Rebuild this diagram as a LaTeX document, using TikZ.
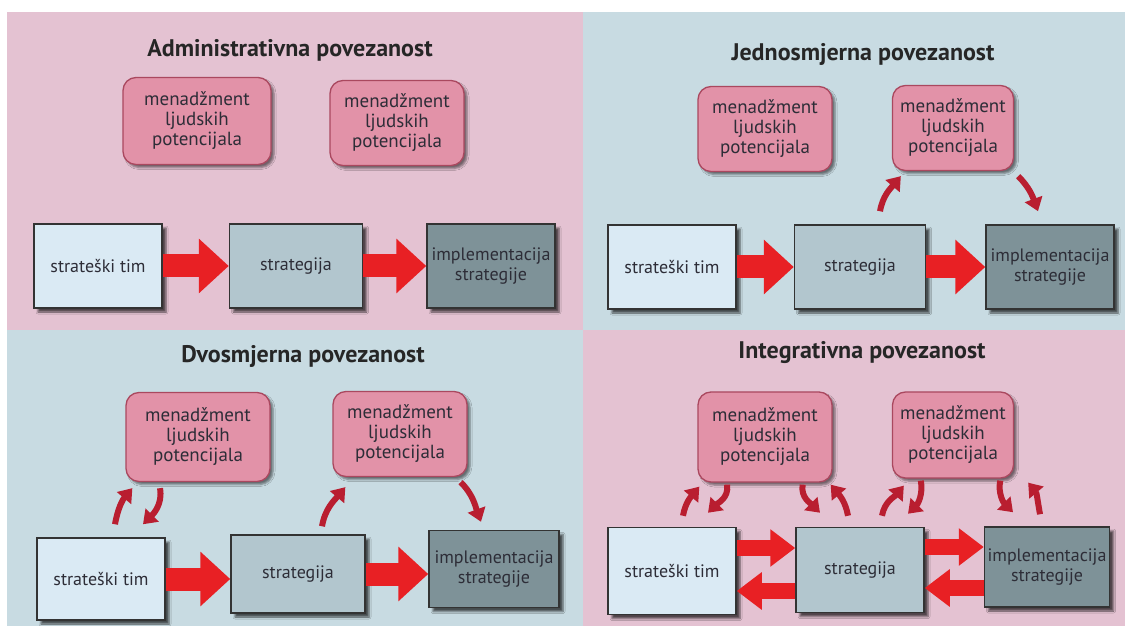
\documentclass[tikz,border=0pt]{standalone}
\usepackage{fontspec}
\setmainfont{PT Sans}
\usetikzlibrary{arrows.meta,shadows.blur}

\definecolor{bgpink}{RGB}{228,194,210}
\definecolor{bgblue}{RGB}{200,219,226}
\definecolor{boxpink}{RGB}{226,146,168}
\definecolor{boxpinkline}{RGB}{170,72,95}
\definecolor{timfill}{RGB}{218,234,244}
\definecolor{stratfill}{RGB}{178,198,206}
\definecolor{implfill}{RGB}{126,146,152}
\definecolor{bigred}{RGB}{232,32,36}
\definecolor{darkred}{RGB}{185,30,48}
\definecolor{textgray}{RGB}{45,45,55}

\begin{document}
\begin{tikzpicture}[x=1pt,y=-1pt,
    heading/.style={font=\fontsize{24}{28}\selectfont\bfseries, text=black!85},
    hrm/.style={draw=boxpinkline, line width=1.3pt, fill=boxpink, rounded corners=13pt,
        minimum width=134pt, minimum height=85pt, align=center, inner sep=0pt,
        font=\fontsize{19}{20}\selectfont, text=textgray,
        blur shadow={shadow xshift=3pt, shadow yshift=-3pt, shadow opacity=50}},
    block/.style={draw=black!80, line width=1.5pt, minimum width=128pt, minimum height=84pt,
        align=center, inner sep=0pt, font=\fontsize{18}{20}\selectfont, text=textgray,
        blur shadow={shadow xshift=4pt, shadow yshift=-4pt, shadow opacity=65}},
    bigarrow/.style={draw=bigred, line width=23pt, -{Triangle[length=30pt,width=53pt]}},
    twoarrow/.style={draw=bigred, line width=16pt, -{Triangle[length=25pt,width=36pt]}},
    curlarrow/.style={draw=darkred, line width=6pt, -{Triangle[length=13pt,width=18pt]}}
]
    \useasboundingbox (0,0) rectangle (1125,628);
    % backgrounds
    \fill[bgpink] (7,12) rectangle (583,330);
    \fill[bgblue] (583,12) rectangle (1125,330);
    \fill[bgblue] (7,330) rectangle (583,626);
    \fill[bgpink] (583,330) rectangle (1125,626);

    % Administrativna
    \node[heading] (tA) at (290,50) {Administrativna povezanost};
    \node[hrm, minimum width=148pt, minimum height=87pt] (hA1) at (197,121) {menadžment\\ljudskih\\potencijala};
    \node[hrm] (hA2) at (397,123) {menadžment\\ljudskih\\potencijala};
    \node[block, fill=timfill] (stA) at (98,266) {strateški tim};
    \node[block, fill=stratfill, minimum width=133pt] (sgA) at (296,266) {strategija};
    \node[block, fill=implfill] (imA) at (491,266) {implementacija\\strategije};
    \draw[bigarrow] (stA.east) -- (sgA.west |- stA.east);
    \draw[bigarrow] (sgA.east) -- (imA.west |- sgA.east);

    % Jednosmjerna
    \node[heading] (tB) at (863,54) {Jednosmjerna povezanost};
    \node[hrm] (hB1) at (765,129) {menadžment\\ljudskih\\potencijala};
    \node[hrm, minimum width=121pt] (hB2) at (953,128) {menadžment\\ljudskih\\potencijala};
    \node[block, fill=timfill] (stB) at (672,267) {strateški tim};
    \node[block, fill=stratfill, minimum width=131pt] (sgB) at (860,267) {strategija};
    \node[block, fill=implfill] (imB) at (1050,267) {implementacija\\strategije};
    \draw[bigarrow] (stB.east) -- (sgB.west |- stB.east);
    \draw[bigarrow] (sgB.east) -- (imB.west |- sgB.east);
    \draw[curlarrow] ([xshift=20pt,yshift=13pt]sgB.north) to[out=80,in=230] ([xshift=9pt,yshift=-5pt]hB2.south west);
    \draw[curlarrow] ([xshift=4pt,yshift=-5pt]hB2.south east) to[out=-45,in=110] ([xshift=-12pt,yshift=13pt]imB.north);

    % Dvosmjerna
    \node[heading] (tC) at (303,356) {Dvosmjerna povezanost};
    \node[hrm, minimum width=144pt, minimum height=89pt] (hC1) at (198,437) {menadžment\\ljudskih\\potencijala};
    \node[hrm] (hC2) at (400,434) {menadžment\\ljudskih\\potencijala};
    \node[block, fill=timfill, minimum height=82pt] (stC) at (101,579) {strateški tim};
    \node[block, fill=stratfill, minimum width=134pt, minimum height=78pt] (sgC) at (298,574) {strategija};
    \node[block, fill=implfill, minimum width=130pt, minimum height=77pt] (imC) at (494,569) {implementacija\\strategije};
    \draw[bigarrow] (stC.east) -- (sgC.west |- stC.east);
    \draw[bigarrow] (sgC.east) -- (imC.west |- sgC.east);
    \draw[curlarrow] ([xshift=14pt,yshift=13pt]stC.north) to[out=80,in=230] ([xshift=7pt,yshift=-6pt]hC1.south west);
    \draw[curlarrow] ([xshift=-38pt,yshift=-6pt]hC1.south) to[out=-80,in=45] ([xshift=42pt,yshift=13pt]stC.north);
    \draw[curlarrow] ([xshift=24pt,yshift=8pt]sgC.north) to[out=80,in=230] ([xshift=13pt,yshift=-10pt]hC2.south west);
    \draw[curlarrow] ([xshift=-7pt,yshift=-5pt]hC2.south east) to[out=-45,in=110] ([xshift=-13pt,yshift=8pt]imC.north);

    % Integrativna
    \node[heading] (tD) at (862,353) {Integrativna povezanost};
    \node[hrm, minimum height=90pt] (hD1) at (765,437) {menadžment\\ljudskih\\potencijala};
    \node[hrm, minimum width=121pt, minimum height=86pt] (hD2) at (953,435) {menadžment\\ljudskih\\potencijala};
    \node[block, fill=timfill, minimum height=87pt] (stD) at (672,571) {strateški tim};
    \node[block, fill=stratfill, minimum height=85pt] (sgD) at (860,570) {strategija};
    \node[block, fill=implfill, minimum width=125pt, minimum height=80pt] (imD) at (1047,567) {implementacija\\strategije};
    \draw[twoarrow] ([yshift=23pt]stD.east) -- ([yshift=23pt]stD.east -| sgD.west);
    \draw[twoarrow] ([yshift=-21pt]sgD.west) -- ([yshift=-21pt]sgD.west -| stD.east);
    \draw[twoarrow] ([yshift=23pt]sgD.east) -- ([yshift=23pt]sgD.east -| imD.west);
    \draw[twoarrow] ([yshift=-21pt]imD.west) -- ([yshift=-21pt]imD.west -| sgD.east);
    \draw[curlarrow] ([xshift=11pt,yshift=11pt]stD.north) to[out=80,in=230] ([xshift=2pt,yshift=-4pt]hD1.south west);
    \draw[curlarrow] ([xshift=-38pt,yshift=-2pt]hD1.south) to[out=-80,in=45] ([xshift=36pt,yshift=14pt]stD.north);
    \draw[curlarrow] ([xshift=-30pt,yshift=-2pt]hD1.south east) to[out=-100,in=135] ([xshift=-40pt,yshift=14pt]sgD.north);
    \draw[curlarrow] ([xshift=-12pt,yshift=11pt]sgD.north) to[out=100,in=-50] ([xshift=-2pt,yshift=-2pt]hD1.south east);
    \draw[curlarrow] ([xshift=22pt,yshift=11pt]sgD.north) to[out=80,in=230] ([xshift=12pt,yshift=-7pt]hD2.south west);
    \draw[curlarrow] ([xshift=29pt,yshift=-2pt]hD2.south west) to[out=-80,in=45] ([xshift=48pt,yshift=13pt]sgD.north);
    \draw[curlarrow] ([xshift=-14pt,yshift=-2pt]hD2.south east) to[out=-100,in=135] ([xshift=-34pt,yshift=14pt]imD.north);
    \draw[curlarrow] ([xshift=-7pt,yshift=12pt]imD.north) to[out=100,in=-50] ([xshift=14pt,yshift=-4pt]hD2.south east);
\end{tikzpicture}
\end{document}
